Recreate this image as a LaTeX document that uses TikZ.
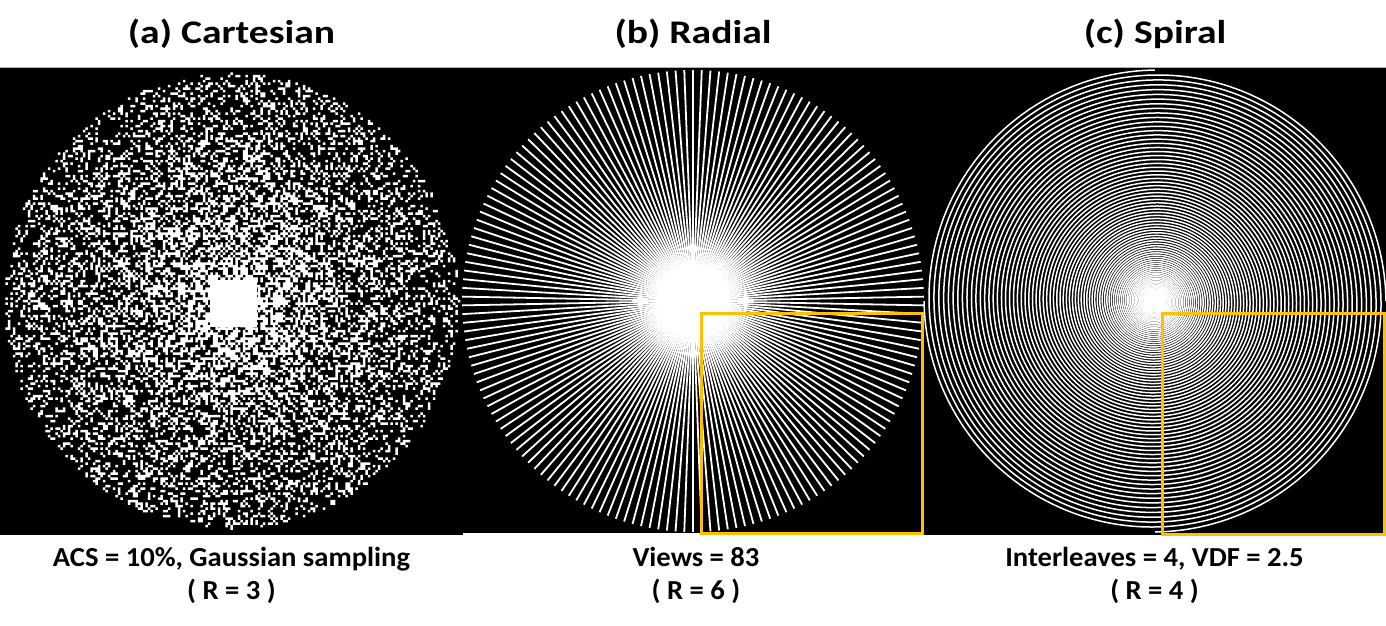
\documentclass[tikz,border=0pt]{standalone}
\usepackage{fontspec}
\setmainfont{Carlito}
\definecolor{boxgold}{RGB}{255,192,0}
\newcount\mycI \newcount\mycJ \newcount\mydd
\def\docell{%
  \mydd=\numexpr\mycI*\mycI+\mycJ*\mycJ\relax
  \ifnum\mydd>8281 \else
    \pgfmathsetmacro\pth{int(1000*(0.2+0.4*exp(-\the\mydd/3500)))}%
    \pgfmathrandominteger\rv{0}{999}%
    \ifnum\rv<\pth\relax
      \pgfpathrectangle{\pgfpoint{\dimexpr230.25pt+2.5pt*\mycJ\relax}{\dimexpr-302.25pt-2.5pt*\mycI\relax}}{\pgfpoint{2.5pt}{2.5pt}}%
    \fi
  \fi}
\def\colloop{\ifnum\mycJ>91 \else\docell\advance\mycJ by 1 \expandafter\colloop\fi}
\def\rowloop{\ifnum\mycI>91 \else\mycJ=-91 \colloop\advance\mycI by 1 \expandafter\rowloop\fi}
\tikzset{
  panel/.style={fill=black},
  spoke/.style={white, line width=1.8pt},
  spiralline/.style={white, line width=1.5pt},
  zoombox/.style={draw=boxgold, line width=3pt},
  title/.style={font=\fontsize{33}{40}\selectfont\bfseries, anchor=base, xscale=1.2, inner sep=0pt},
  caption/.style={font=\fontsize{27.5}{33}\selectfont\bfseries, anchor=base, xscale=1.04, inner sep=0pt}
}
\begin{document}
\begin{tikzpicture}[x=1pt, y=-1pt]
\useasboundingbox (0,0) rectangle (1386,626);
\fill[white] (0,0) rectangle (1386,626);
% panels
\fill[panel] (0,67) rectangle (463,535);
\fill[panel] (461,67) rectangle (924,533);
\fill[panel] (923,67) rectangle (1386,535);
\draw[gray!60, line width=0.8pt] (0,67) -- (1386,67);
% (a) Cartesian random sampling
\begin{scope}
  \pgfsetfillcolor{white}
  \pgfmathsetseed{20240}
  \mycI=-91 \rowloop
  \pgfusepath{fill}
\end{scope}
\fill[white] (210,280) rectangle (257,327);
% (b) Radial
\coordinate (cb) at (693,301);
\begin{scope}[shift={(cb)}]
  \foreach \k in {0,...,82} {
    \draw[spoke] ({90+\k*180/83}:231) -- ({270+\k*180/83}:231);
  }
\end{scope}
% (c) Spiral
\coordinate (cc) at (1155,301);
\begin{scope}[shift={(cc)}]
  \foreach \n in {0,1,2,3} {
    \draw[spiralline] plot[domain=5:8280, samples=3000, smooth] ({\x+90*\n}:{231*pow(\x/8280,2)});
  }
\end{scope}
% zoom boxes
\draw[zoombox] (701,313) rectangle (922,533);
\draw[zoombox] (1162,313) rectangle (1384,534);
% titles
\node[title] (ta) at (231.5,44) {(a) Cartesian};
\node[title] (tb) at (693,44) {(b) Radial};
\node[title] (tc) at (1155,44) {(c) Spiral};
% captions
\node[caption] (ca1) at (231.5,566) {ACS = 10\%, Gaussian sampling};
\node[caption] (ca2) at (231.5,599) {( R = 3 )};
\node[caption] (cb1) at (696,566) {Views = 83};
\node[caption] (cb2) at (696,599) {( R = 6 )};
\node[caption] (cc1) at (1154.5,566) {Interleaves = 4, VDF = 2.5};
\node[caption] (cc2) at (1154.5,599) {( R = 4 )};
\end{tikzpicture}
\end{document}
